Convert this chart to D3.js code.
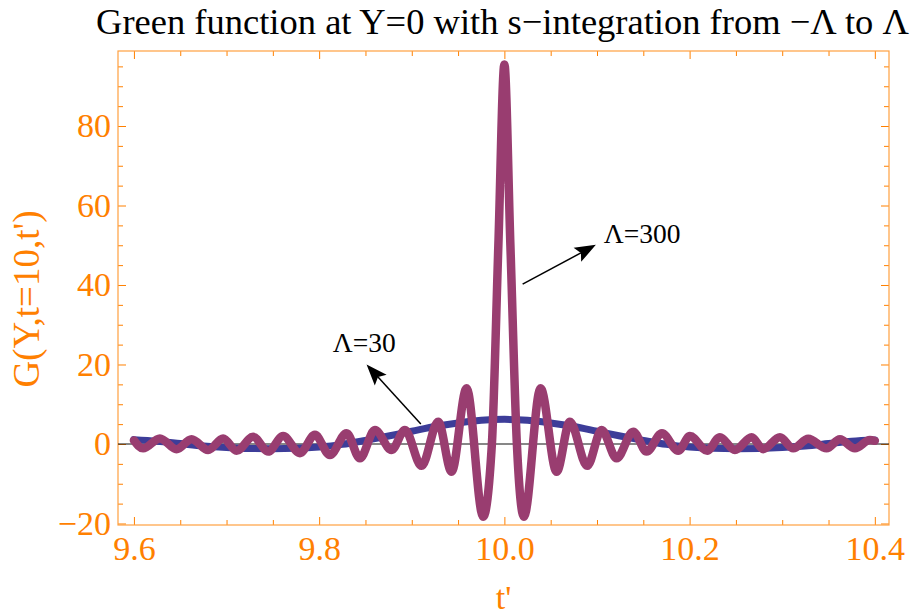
<!DOCTYPE html>
<html>
<head>
<meta charset="utf-8">
<script src="https://cdn.jsdelivr.net/npm/d3@7/dist/d3.min.js"></script>
<style>
  body { margin: 0; background: #fff; }
  svg { display: block; }
  text { font-family: "Liberation Serif", "Times New Roman", serif; }
</style>
</head>
<body>
<svg id="chart" width="916" height="615"></svg>
<script>
// values

// Lambda = 30 (blue)
const blueT = [9.600, 9.625, 9.650, 9.675, 9.700, 9.725, 9.750, 9.775, 9.800, 9.825, 9.850,
  9.875, 9.900, 9.925, 9.950, 9.975, 10.000, 10.025, 10.050, 10.075, 10.100, 10.125,
  10.150, 10.175, 10.200, 10.225, 10.250, 10.275, 10.300, 10.325, 10.350, 10.375, 10.400]
const blueG = [1.1, 0.7, 0.1, -0.5, -0.9, -1.15, -1.2, -1.1, -0.75, -0.1, 0.9,
  2.0, 3.2, 4.4, 5.3, 5.95, 6.2, 5.95, 5.3, 4.4, 3.2, 2.0,
  0.9, -0.1, -0.75, -1.1, -1.2, -1.15, -0.9, -0.5, 0.1, 0.7, 1.0]

// Lambda = 300 (purple), extrema + a few points on the central peak
const purpleT = [9.6000, 9.6099, 9.6280, 9.6460, 9.6622, 9.6801, 9.6963, 9.7108, 9.7287,
  9.7449, 9.7611, 9.7792, 9.7954, 9.8116, 9.8296, 9.8440, 9.8602, 9.8782, 9.8926,
  9.9106, 9.9285, 9.9430, 9.9592, 9.9771, 9.9865, 9.9935, 10.0000, 10.0065, 10.0135,
  10.0211, 10.0391, 10.0564, 10.0707, 10.0894, 10.1050, 10.1212, 10.1391, 10.1536,
  10.1701, 10.1877, 10.2003, 10.2190, 10.2327, 10.2489, 10.2670, 10.2795, 10.2975,
  10.3119, 10.3281, 10.3479, 10.3623, 10.3785, 10.3947, 10.4000]
const purpleG = [0.9, -1.1, 1.4, -1.3, 1.2, -1.5, 1.4, -1.7, 1.8,
  -1.9, 2.0, -2.3, 2.3, -2.8, 2.7, -3.6, 3.5, -1.5, 3.5,
  -5.5, 5.6, -7.0, 14.0, -18.3, 0, 50, 95.5, 50, 0,
  -18.3, 14.0, -7.0, 5.6, -5.5, 3.5, -3.6, 3.1, -1.9,
  2.7, -1.7, 2.0, -1.7, 1.7, -1.5, 1.7, -1.3, 1.7,
  -1.1, 1.3, -1.1, 1.2, -1.1, 1.0, 0.8]

const xMajor = [9.6, 9.8, 10.0, 10.2, 10.4]
const yMajor = [-20, 0, 20, 40, 60, 80]
const xMinor = d3.range(9.6, 10.401, 0.05).filter(v => Math.abs(v * 5 - Math.round(v * 5)) > 1e-6)
const yMinor = d3.range(-20, 100, 5).filter(v => v % 20 !== 0)

const notes = [
  { text: 'Λ=300', at: [10.1074, 50.6], from: [10.0197, 40.2], to: [10.0988, 50.1] },
  { text: 'Λ=30', at: [9.8148, 23.2], from: [9.9098, 5.0], to: [9.8512, 20.0] }
]

const W = 916, H = 615
const m = { left: 118, right: 27, top: 51, bottom: 90 }
const orange = '#ff8000'
const serif = '"Liberation Serif", "Times New Roman", serif'

const svg = d3.select('#chart')

const x = d3.scaleLinear().domain([9.5828, 10.4153]).range([m.left, W - m.right])
const y = d3.scaleLinear().domain([-20.38, 98.87]).range([H - m.bottom, m.top])

// frame axes, ticks pointing inward
function frame(axis, tx, ty, vals, size, fmt) {
  const g = svg.append('g').attr('transform', `translate(${tx},${ty})`)
    .call(axis.tickValues(vals).tickSizeInner(-size).tickSizeOuter(0).tickFormat(fmt))
  g.attr('font-family', serif)
  g.select('.domain').remove()
  g.selectAll('line').attr('stroke', orange).attr('stroke-width', 1)
  g.selectAll('text').attr('fill', orange).attr('font-size', 34)
  return g
}

const bottom = H - m.bottom, right = W - m.right
frame(d3.axisBottom(x).tickPadding(11), 0, bottom, xMajor, 8, d3.format('.1f'))
frame(d3.axisBottom(x), 0, bottom, xMinor, 5, '')
frame(d3.axisTop(x), 0, m.top, xMajor, 8, '')
frame(d3.axisTop(x), 0, m.top, xMinor, 5, '')
frame(d3.axisLeft(y).tickPadding(7), m.left, 0, yMajor, 8, d3.format('d'))
frame(d3.axisLeft(y), m.left, 0, yMinor, 5, '')
frame(d3.axisRight(y), right, 0, yMajor, 8, '')
frame(d3.axisRight(y), right, 0, yMinor, 5, '')

svg.append('rect')
  .attr('x', m.left).attr('y', m.top)
  .attr('width', right - m.left).attr('height', bottom - m.top)
  .attr('fill', 'none').attr('stroke', '#ffa040').attr('stroke-width', 1.2)

// zero axis
svg.append('line')
  .attr('x1', m.left).attr('x2', right)
  .attr('y1', y(0)).attr('y2', y(0))
  .attr('stroke', '#111').attr('stroke-width', 1.2)

const line = d3.line().x(d => x(d[0])).y(d => y(d[1])).curve(d3.curveMonotoneX)

svg.append('path')
  .datum(blueT.map((t, i) => [t, blueG[i]]))
  .attr('d', line)
  .attr('fill', 'none').attr('stroke', '#3d3d99').attr('stroke-width', 7)
  .attr('stroke-linecap', 'round').attr('stroke-linejoin', 'round')

svg.append('path')
  .datum(purpleT.map((t, i) => [t, purpleG[i]]))
  .attr('d', line)
  .attr('fill', 'none').attr('stroke', '#993d70').attr('stroke-width', 8.5)
  .attr('stroke-linecap', 'round').attr('stroke-linejoin', 'round')

// annotations with arrows
notes.forEach(n => {
  const x0 = x(n.from[0]), y0 = y(n.from[1]), x1 = x(n.to[0]), y1 = y(n.to[1])
  const len = Math.hypot(x1 - x0, y1 - y0)
  const ux = (x1 - x0) / len, uy = (y1 - y0) / len
  const nx = -uy, ny = ux
  const L = 21, w = 8, notch = 4
  svg.append('line')
    .attr('x1', x0).attr('y1', y0)
    .attr('x2', x1 - (L - notch) * ux).attr('y2', y1 - (L - notch) * uy)
    .attr('stroke', '#000').attr('stroke-width', 1.5)
  const pts = [
    [x1, y1],
    [x1 - L * ux + w * nx, y1 - L * uy + w * ny],
    [x1 - (L - notch) * ux, y1 - (L - notch) * uy],
    [x1 - L * ux - w * nx, y1 - L * uy - w * ny]
  ]
  svg.append('polygon').attr('points', pts.map(p => p.join(',')).join(' ')).attr('fill', '#000')
  svg.append('text')
    .attr('x', x(n.at[0])).attr('y', y(n.at[1]))
    .attr('font-family', serif).attr('font-size', 27.5).attr('fill', '#000')
    .text(n.text)
})

// titles
const cx = (m.left + right) / 2
svg.append('text')
  .attr('x', cx - 1).attr('y', 34)
  .attr('text-anchor', 'middle').attr('font-family', serif).attr('font-size', 36.5).attr('fill', '#000')
  .text('Green function at Y=0 with s\u2212integration from \u2212Λ to Λ')

svg.append('text')
  .attr('x', cx).attr('y', 609)
  .attr('text-anchor', 'middle').attr('font-family', serif).attr('font-size', 34).attr('fill', orange)
  .text("t'")

svg.append('text')
  .attr('transform', `translate(39,299) rotate(-90)`)
  .attr('text-anchor', 'middle').attr('font-family', serif).attr('font-size', 37).attr('fill', orange)
  .text("G(Y,t=10,t')")
</script>
</body>
</html>
